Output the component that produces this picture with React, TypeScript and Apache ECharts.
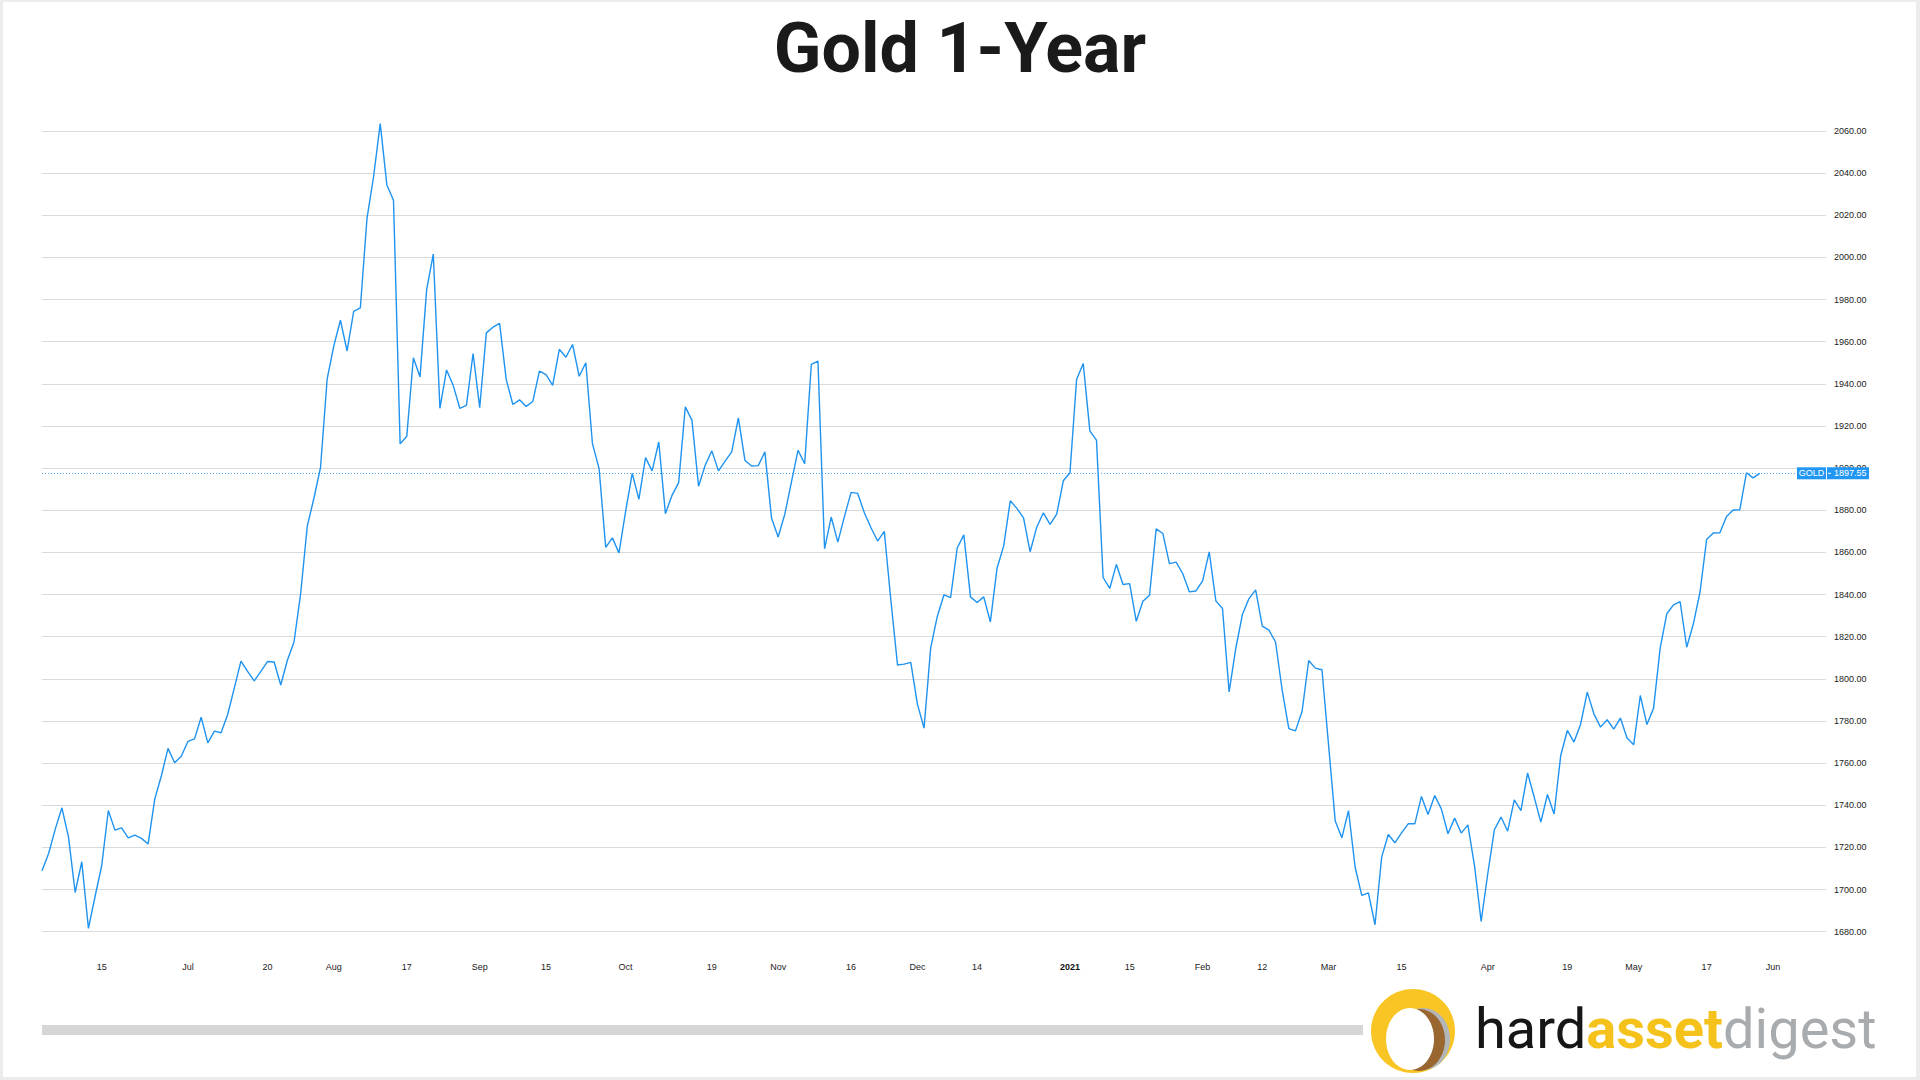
import React, { useEffect, useRef } from "react";
import * as echarts from "echarts";

// Daily gold closes (trading days, early Jun 2020 -> late May 2021)
const goldPrices = [
  1708.9, 1717.1, 1728.7, 1738.8, 1724.9, 1698.6, 1713.2, 1681.6, 1696.7, 1711.3,
  1737.5, 1728.2, 1729.3, 1724.5, 1725.8, 1724.3, 1721.6, 1742.9, 1754.0, 1767.0,
  1760.2, 1763.3, 1770.3, 1771.5, 1781.8, 1769.6, 1775.2, 1774.4, 1783.1, 1795.7,
  1808.4, 1803.5, 1799.0, 1803.5, 1808.2, 1808.0, 1797.1, 1808.8, 1817.5, 1840.4,
  1872.5, 1885.7, 1900.4, 1942.4, 1958.0, 1970.2, 1955.6, 1974.4, 1976.0, 2018.4,
  2038.4, 2063.5, 2034.4, 2027.1, 1911.5, 1915.1, 1952.4, 1943.3, 1984.7, 2001.6,
  1928.4, 1946.6, 1939.3, 1928.4, 1929.8, 1954.4, 1928.7, 1964.2, 1966.9, 1968.7,
  1942.0, 1930.2, 1932.4, 1929.3, 1931.6, 1946.0, 1944.4, 1939.3, 1956.4, 1952.6,
  1958.7, 1943.6, 1950.0, 1911.6, 1899.8, 1862.4, 1866.9, 1859.8, 1879.5, 1897.5,
  1885.2, 1905.0, 1898.7, 1912.4, 1878.4, 1887.1, 1893.1, 1929.1, 1922.8, 1891.4,
  1901.4, 1908.2, 1898.7, 1903.3, 1907.7, 1923.9, 1903.6, 1901.0, 1901.2, 1907.7,
  1876.3, 1867.3, 1878.1, 1893.4, 1908.5, 1902.1, 1949.2, 1950.8, 1861.7, 1876.8,
  1864.9, 1877.1, 1888.5, 1888.0, 1878.8, 1871.7, 1865.4, 1870.0, 1837.2, 1806.6,
  1807.0, 1807.8, 1788.0, 1776.6, 1814.7, 1829.6, 1839.9, 1838.5, 1862.1, 1868.3,
  1838.9, 1836.2, 1838.9, 1827.0, 1852.4, 1863.0, 1884.5, 1880.9, 1876.4, 1860.3,
  1872.1, 1878.8, 1873.3, 1878.2, 1894.0, 1897.8, 1942.1, 1949.7, 1917.7, 1913.3,
  1848.1, 1842.9, 1854.3, 1844.8, 1845.2, 1827.3, 1836.8, 1839.7, 1871.2, 1869.0,
  1854.7, 1855.4, 1850.0, 1841.3, 1841.7, 1846.5, 1860.3, 1837.0, 1833.4, 1793.8,
  1814.4, 1830.5, 1838.1, 1842.2, 1825.0, 1823.1, 1817.5, 1794.6, 1776.4, 1775.3,
  1784.5, 1808.7, 1805.1, 1804.3, 1768.4, 1732.5, 1724.6, 1737.5, 1710.6, 1697.2,
  1698.4, 1683.3, 1715.4, 1726.1, 1722.2, 1726.9, 1731.2, 1731.2, 1744.2, 1735.6,
  1744.6, 1738.3, 1726.5, 1733.9, 1726.8, 1730.7, 1711.4, 1684.9, 1707.5, 1728.4,
  1734.4, 1727.7, 1742.6, 1737.5, 1755.3, 1743.9, 1732.0, 1745.1, 1735.9, 1763.6,
  1775.5, 1770.0, 1778.5, 1793.7, 1783.4, 1777.1, 1780.6, 1776.1, 1781.4, 1771.9,
  1768.7, 1792.1, 1778.3, 1786.1, 1814.7, 1830.9, 1835.1, 1836.7, 1815.0, 1826.1,
  1841.1, 1866.1, 1869.2, 1869.3, 1877.1, 1880.1, 1880.2, 1897.8, 1895.4, 1897.55,
];

const lastPrice = 1897.55;
const symbolName = "GOLD";
// total trading-day slots on the axis (data + empty right margin)
const totalSlots = 270;

// x-axis tick labels at trading-day slot positions
const tickIndices = [9, 22, 34, 44, 55, 66, 76, 88, 101, 111, 122, 132, 141, 155, 164, 175, 184, 194, 205, 218, 230, 240, 251, 261];
const tickLabels = ["15", "Jul", "20", "Aug", "17", "Sep", "15", "Oct", "19", "Nov", "16", "Dec", "14", "2021", "15", "Feb", "12", "Mar", "15", "Apr", "19", "May", "17", "Jun"];
const boldTicks = ["2021"];

const yMin = 1680;
const yMax = 2060;
const yStep = 20;

const titleText = "Gold 1-Year";

export default function App() {
  const ref = useRef<HTMLDivElement>(null);

  useEffect(() => {
    if (!ref.current) return;
    const chart = echarts.init(ref.current, null, { renderer: "svg" });
    const categories = Array.from({ length: totalSlots }, (_, i) => String(i));
    const labelMap = new Map<number, string>();
    tickIndices.forEach((idx, k) => labelMap.set(idx, tickLabels[k]));

    const gridLeft = 42;
    const gridRightEdge = 1826;

    chart.setOption({
      animation: false,
      backgroundColor: "#ececec",
      title: {
        text: titleText,
        left: "center",
        top: 8,
        textStyle: {
          fontFamily: "Roboto, 'Liberation Sans', sans-serif",
          fontWeight: "bold",
          fontSize: 70,
          color: "#1a1a1a",
        },
      },
      grid: {
        left: gridLeft,
        right: 1920 - gridRightEdge,
        top: 131,
        bottom: 148.3,
        containLabel: false,
      },
      xAxis: {
        type: "category",
        data: categories,
        boundaryGap: false,
        axisLine: { show: false },
        axisTick: { show: false },
        splitLine: { show: false },
        axisLabel: {
          interval: (i: number) => labelMap.has(i),
          formatter: (v: string) => {
            const t = labelMap.get(Number(v)) || "";
            return boldTicks.includes(t) ? `{b|${t}}` : t;
          },
          margin: 31,
          fontSize: 9,
          fontFamily: "'Liberation Sans', sans-serif",
          color: "#222",
          rich: {
            b: { fontSize: 9, fontWeight: "bold", color: "#111", fontFamily: "'Liberation Sans', sans-serif" },
          },
        },
      },
      yAxis: {
        type: "value",
        position: "right",
        min: yMin,
        max: yMax,
        interval: yStep,
        axisLine: { show: false },
        axisTick: { show: false },
        splitLine: { show: true, lineStyle: { color: "#dadada", width: 1 } },
        axisLabel: {
          margin: 8,
          fontSize: 9,
          fontFamily: "'Liberation Sans', sans-serif",
          color: "#222",
          formatter: (v: number) => v.toFixed(2),
        },
      },
      series: [
        {
          type: "line",
          data: goldPrices,
          symbol: "none",
          showSymbol: false,
          clip: false,
          lineStyle: { color: "#1f93f0", width: 1.4 },
          markLine: {
            silent: true,
            symbol: ["none", "none"],
            label: { show: false },
            lineStyle: { color: "#2196F3", type: [1, 2], width: 1, opacity: 0.8 },
            data: [{ yAxis: lastPrice }],
          },
        },
      ],
    });

    const py = chart.convertToPixel({ yAxisIndex: 0 }, lastPrice) as number;
    const boxH = 12;

    chart.setOption({
      graphic: [
        {
          type: "rect",
          z: -100,
          silent: true,
          shape: { x: 3, y: 2, width: 1913, height: 1075 },
          style: { fill: "#ffffff" },
        },
        // last price tag
        {
          type: "rect",
          z: 100,
          shape: { x: gridRightEdge - 29, y: py - boxH / 2, width: 29, height: boxH },
          style: { fill: "#2196F3" },
        },
        {
          type: "rect",
          z: 100,
          shape: { x: gridRightEdge + 1, y: py - boxH / 2, width: 42, height: boxH },
          style: { fill: "#2196F3" },
        },
        {
          type: "text",
          z: 101,
          x: gridRightEdge - 14.5,
          y: py,
          style: {
            text: symbolName,
            fill: "#fff",
            fontSize: 9,
            fontFamily: "'Liberation Sans', sans-serif",
            align: "center",
            verticalAlign: "middle",
          },
        },
        {
          type: "line",
          z: 101,
          shape: { x1: gridRightEdge + 2, y1: py, x2: gridRightEdge + 5, y2: py },
          style: { stroke: "#fff", lineWidth: 1 },
        },
        {
          type: "text",
          z: 101,
          x: gridRightEdge + 8,
          y: py,
          style: {
            text: lastPrice.toFixed(2),
            fill: "#fff",
            fontSize: 9,
            fontFamily: "'Liberation Sans', sans-serif",
            align: "left",
            verticalAlign: "middle",
          },
        },
        // scrollbar-like bar
        {
          type: "rect",
          silent: true,
          shape: { x: 42, y: 1025, width: 1321, height: 10 },
          style: { fill: "#d6d6d6" },
        },
        // logo
        {
          type: "ellipse",
          shape: { cx: 1413, cy: 1031, rx: 42, ry: 42 },
          style: { fill: "#f8c524" },
        },
        {
          type: "ellipse",
          shape: { cx: 1423, cy: 1039, rx: 27, ry: 31 },
          style: { fill: "#b3b6b9" },
        },
        {
          type: "ellipse",
          shape: { cx: 1419, cy: 1040, rx: 26, ry: 31 },
          style: { fill: "#9a6630" },
        },
        {
          type: "ellipse",
          shape: { cx: 1410, cy: 1039, rx: 24, ry: 31 },
          style: { fill: "#ffffff" },
        },
        {
          type: "text",
          x: 1475,
          y: 1029,
          style: {
            text: "{h|hard}{a|asset}{d|digest}",
            verticalAlign: "middle",
            rich: {
              h: { fontSize: 56, fontFamily: "Roboto, sans-serif", fill: "#161616", color: "#161616" },
              a: { fontSize: 56, fontFamily: "Roboto, sans-serif", fontWeight: "bold", fill: "#f5c21b", color: "#f5c21b" },
              d: { fontSize: 56, fontFamily: "Roboto, sans-serif", fill: "#a9acaf", color: "#a9acaf" },
            },
          },
        },
      ],
    });

    return () => chart.dispose();
  }, []);

  return (
    <div
      ref={ref}
      style={{ position: "fixed", left: 0, top: 0, width: 1920, height: 1080 }}
    />
  );
}
